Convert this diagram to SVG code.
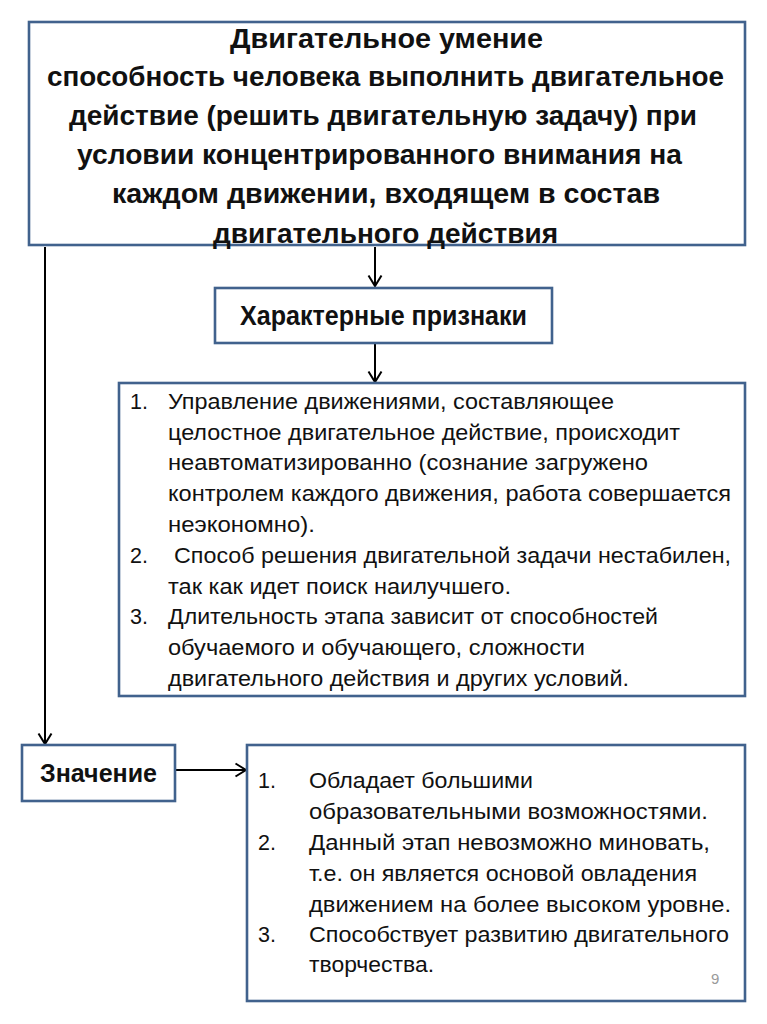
<svg xmlns="http://www.w3.org/2000/svg" width="767" height="1024" viewBox="0 0 767 1024">
<style>
.box{fill:#ffffff;stroke:#41628d;stroke-width:2.6}
.t{font-family:"Liberation Sans Narrow","Liberation Sans",Arial,sans-serif;fill:#111111}
.b{font-weight:bold}
.title{font-size:27px}
.head{font-size:27px}
.head2{font-size:25px}
.li{font-size:21.5px}
.num{font-size:21.5px}
.conn{fill:none;stroke:#000000;stroke-width:2}
.pg{font-family:"Liberation Sans",Arial,sans-serif;font-size:15px;fill:#9a9a9a}
</style>
<defs>
<marker id="arr" markerUnits="userSpaceOnUse" markerWidth="14" markerHeight="16" viewBox="0 0 14 16" refX="12" refY="8" orient="auto">
<path d="M1.5,1.5 L12,8 L1.5,14.5" fill="none" stroke="#000000" stroke-width="2"/>
</marker>
</defs>
<rect width="767" height="1024" fill="#ffffff"/>

<g id="connectors">
<line class="conn" x1="375" y1="247" x2="375" y2="286" marker-end="url(#arr)"/>
<line class="conn" x1="375" y1="344" x2="375" y2="382" marker-end="url(#arr)"/>
<line class="conn" x1="45" y1="247" x2="45" y2="744" marker-end="url(#arr)"/>
<line class="conn" x1="176" y1="770" x2="246" y2="770" marker-end="url(#arr)"/>
</g>

<g id="node-definition">
<rect class="box" x="29" y="22" width="716" height="223"/>
<text class="t b title" x="230" y="48" textLength="313" lengthAdjust="spacingAndGlyphs">Двигательное умение</text>
<text class="t b title" x="47" y="86" textLength="677" lengthAdjust="spacingAndGlyphs">способность человека выполнить двигательное</text>
<text class="t b title" x="69" y="125" textLength="628" lengthAdjust="spacingAndGlyphs">действие (решить двигательную задачу) при</text>
<text class="t b title" x="77" y="164" textLength="605" lengthAdjust="spacingAndGlyphs">условии концентрированного внимания на</text>
<text class="t b title" x="112" y="203" textLength="548" lengthAdjust="spacingAndGlyphs">каждом движении, входящем в состав</text>
<text class="t b title" x="213" y="243" textLength="345" lengthAdjust="spacingAndGlyphs">двигательного действия</text>
</g>

<g id="node-features-header">
<rect class="box" x="215" y="288" width="337" height="55"/>
<text class="t b head" x="240" y="325" textLength="287" lengthAdjust="spacingAndGlyphs">Характерные признаки</text>
</g>

<g id="node-features-list">
<rect class="box" x="119" y="383" width="626" height="313"/>
<text class="t num" x="130" y="409">1.</text>
<text class="t li" x="168" y="409" textLength="446" lengthAdjust="spacingAndGlyphs">Управление движениями, составляющее</text>
<text class="t li" x="168" y="440" textLength="512" lengthAdjust="spacingAndGlyphs">целостное двигательное действие, происходит</text>
<text class="t li" x="168" y="470" textLength="480" lengthAdjust="spacingAndGlyphs">неавтоматизированно (сознание загружено</text>
<text class="t li" x="168" y="501" textLength="563" lengthAdjust="spacingAndGlyphs">контролем каждого движения, работа совершается</text>
<text class="t li" x="168" y="532" textLength="147" lengthAdjust="spacingAndGlyphs">неэкономно).</text>
<text class="t num" x="130" y="563">2.</text>
<text class="t li" x="174" y="563" textLength="557" lengthAdjust="spacingAndGlyphs">Способ решения двигательной задачи нестабилен,</text>
<text class="t li" x="168" y="594" textLength="343" lengthAdjust="spacingAndGlyphs">так как идет поиск наилучшего.</text>
<text class="t num" x="130" y="624">3.</text>
<text class="t li" x="168" y="624" textLength="490" lengthAdjust="spacingAndGlyphs">Длительность этапа зависит от способностей</text>
<text class="t li" x="168" y="655" textLength="417" lengthAdjust="spacingAndGlyphs">обучаемого и обучающего, сложности</text>
<text class="t li" x="168" y="686" textLength="461" lengthAdjust="spacingAndGlyphs">двигательного действия и других условий.</text>
</g>

<g id="node-meaning-header">
<rect class="box" x="22" y="745" width="153" height="56"/>
<text class="t b head2" x="40" y="782" textLength="117" lengthAdjust="spacingAndGlyphs">Значение</text>
</g>

<g id="node-meaning-list">
<rect class="box" x="247" y="745" width="498" height="256"/>
<text class="t num" x="258" y="788">1.</text>
<text class="t li" x="309" y="788" textLength="224" lengthAdjust="spacingAndGlyphs">Обладает большими</text>
<text class="t li" x="309" y="819" textLength="399" lengthAdjust="spacingAndGlyphs">образовательными возможностями.</text>
<text class="t num" x="258" y="850">2.</text>
<text class="t li" x="309" y="850" textLength="401" lengthAdjust="spacingAndGlyphs">Данный этап невозможно миновать,</text>
<text class="t li" x="309" y="881" textLength="388" lengthAdjust="spacingAndGlyphs">т.е. он является основой овладения</text>
<text class="t li" x="309" y="912" textLength="422" lengthAdjust="spacingAndGlyphs">движением на более высоком уровне.</text>
<text class="t num" x="258" y="942">3.</text>
<text class="t li" x="309" y="942" textLength="420" lengthAdjust="spacingAndGlyphs">Способствует развитию двигательного</text>
<text class="t li" x="309" y="972" textLength="125" lengthAdjust="spacingAndGlyphs">творчества.</text>
<text class="pg" x="711" y="984">9</text>
</g>
</svg>
